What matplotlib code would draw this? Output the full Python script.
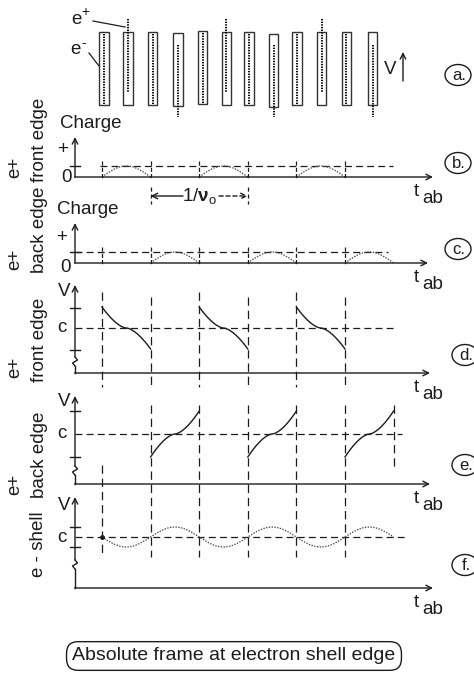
import numpy as np
import matplotlib
matplotlib.use('Agg')
import matplotlib.pyplot as plt
from matplotlib.patches import Rectangle, Ellipse

plt.rcParams['font.family'] = ['Liberation Sans', 'DejaVu Sans']
plt.rcParams['lines.scale_dashes'] = False
plt.rcParams['mathtext.fontset'] = 'custom'
plt.rcParams['mathtext.rm'] = 'Liberation Sans'
plt.rcParams['mathtext.it'] = 'Liberation Sans:italic'
plt.rcParams['mathtext.bf'] = 'Liberation Sans:bold'

# ---- data (time in half periods of 1/v0) ----
BOUNDS = [0, 1, 2, 3, 4, 5, 6]
BAR_T = [0.04, 0.54, 1.04, 1.56, 2.07, 2.56, 3.02, 3.53, 4.01, 4.52, 5.03, 5.57]
BAR_KIND = ['e', 'up', 'e', 'down', 'e', 'up', 'e', 'down', 'e', 'up', 'e', 'down']
BAR_SHIFT = [0, 0, 0, 1, -1, 0, 0, 2, 0, 0, 0, 0]
FRONT_HUMPS = [(0, 1), (2, 3), (4, 5)]
BACK_HUMPS = [(1, 2), (3, 4), (5, 6)]
CHARGE_LEVEL = 1.0
FRONT_FALLS = [(0, 1), (2, 3), (4, 5)]   # v goes from c+1 down to c-1
BACK_RISES = [(1, 2), (3, 4), (5, 6)]    # v goes from c-1 up to c+1
SHELL_SPAN = (0, 6)
SHELL_AMP = 1.0
PANEL_TAGS = ['a.', 'b.', 'c.', 'd.', 'e.', 'f.']

W, H = 474, 675
X0, DX = 102.0, 48.6          # pixel column of t=0, pixels per half period
INK = '#1c1c1c'
FS = 13.5
ARROW = dict(arrowstyle='->', lw=1.0, color=INK, shrinkA=0, shrinkB=0,
             mutation_scale=10)
DASH = dict(color=INK, lw=0.9, ls=(0, (5, 3)))
VDASH = dict(color=INK, lw=0.9, ls=(0, (6, 3.5)))
DOT = dict(color='#444444', lw=0.9, ls=(0, (1, 1)))


def t_of(px):
    return (px - X0) / DX


fig = plt.figure(figsize=(W / 100, H / 100), dpi=100)


def make_panel(y0_px, unit, top_px, bot_px):
    ax = fig.add_axes([0, 1 - bot_px / H, 1, (bot_px - top_px) / H])
    ax.set_xlim(t_of(0), t_of(W))
    ax.set_ylim((y0_px - bot_px) / unit, (y0_px - top_px) / unit)
    ax.axis('off')
    return ax, (lambda px: (y0_px - px) / unit)


def draw_frame(ax, v, base_px, top_px, end_px, zig_px=None):
    xa = t_of(75)
    ax.annotate('', xy=(t_of(end_px), v(base_px)), xytext=(xa - 0.01, v(base_px)),
                arrowprops=ARROW, annotation_clip=False)
    if zig_px is None:
        ax.annotate('', xy=(xa, v(top_px)), xytext=(xa, v(base_px)),
                    arrowprops=ARROW, annotation_clip=False)
    else:
        ax.annotate('', xy=(xa, v(top_px)), xytext=(xa, v(zig_px - 4)),
                    arrowprops=ARROW, annotation_clip=False)
        zx = [0, 2.5, -2.5, 0]
        zy = [-4, -1, 2, 5]
        ax.plot([xa + d / DX for d in zx], [v(zig_px + d) for d in zy],
                color=INK, lw=1.0, clip_on=False)
        ax.plot([xa, xa], [v(zig_px + 5), v(base_px)], color=INK, lw=1.0,
                clip_on=False)


def ytick(ax, v, px):
    ax.plot([t_of(70), t_of(80)], [v(px), v(px)], color=INK, lw=1.0, clip_on=False)


# overlay in pixel units for labels
lay = fig.add_axes([0, 0, 1, 1])
lay.set_xlim(0, W)
lay.set_ylim(H, 0)
lay.axis('off')


def tab(base_px):
    lay.text(414, base_px + 19, 't', fontsize=FS, color=INK, va='baseline')
    lay.text(422, base_px + 26, 'ab', fontsize=FS, color=INK, va='baseline')


def side_label(x, bottom, s):
    lay.text(x, bottom, s, rotation=90, fontsize=FS, color=INK,
             ha='center', va='bottom')


# ---- panel a: shells ----
axa = fig.add_axes([0, 1 - 125 / H, 1, 125 / H])
axa.set_xlim(t_of(0), t_of(W))
axa.set_ylim(125, 0)
axa.axis('off')
bw = 9.5 / DX
for tc, kind, sh in zip(BAR_T, BAR_KIND, BAR_SHIFT):
    axa.add_patch(Rectangle((tc - bw / 2, 32 + sh), bw, 73, facecolor='white',
                            edgecolor='#333333', lw=1.0))
    if kind == 'e':
        ys = (34 + sh, 104 + sh)
    elif kind == 'up':
        ys = (19, 92)
    else:
        ys = (45, 117)
    axa.plot([tc, tc], ys, color='black', lw=1.4, ls=(0, (1, 0.9)))
lay.text(76, 20, 'e', fontsize=FS, color=INK, ha='center', va='center')
lay.text(85, 12, '+', fontsize=10, color=INK, ha='center', va='center')
lay.plot([93, 125], [21, 27], color=INK, lw=0.9)
lay.text(75, 49, 'e', fontsize=FS, color=INK, ha='center', va='center')
lay.text(84, 43, '-', fontsize=10, color=INK, ha='center', va='center')
lay.plot([89, 99], [53, 66], color=INK, lw=0.9)
lay.text(390, 70, 'V', fontsize=FS, color=INK, ha='center', va='center')
lay.annotate('', xy=(403, 52), xytext=(403, 81), arrowprops=ARROW)

# ---- panel b: front edge charge ----
axb, vb = make_panel(177, 11, 110, 215)
draw_frame(axb, vb, 177, 137, 433)
ytick(axb, vb, 166)
axb.plot([t_of(100), t_of(393)], [CHARGE_LEVEL] * 2, **DASH)
for a, b in FRONT_HUMPS:
    tt = np.linspace(a, b, 60)
    axb.plot(tt, CHARGE_LEVEL * np.sin(np.pi * (tt - a)), **DOT)
for t in BOUNDS[:-1]:
    axb.plot([t, t], [CHARGE_LEVEL + 0.5, -0.05], color=INK, lw=0.9, ls=(0, (3, 1.5)))
# 1/v0 span
for t in (1, 3):
    axb.plot([t, t], [vb(187), vb(204)], color=INK, lw=0.9, ls=(0, (3, 2)))
axb.annotate('', xy=(1, vb(196)), xytext=(t_of(183), vb(196)),
             arrowprops=ARROW, annotation_clip=False)
axb.annotate('', xy=(3, vb(196)), xytext=(t_of(219), vb(196)),
             arrowprops=dict(ARROW, ls=(0, (3, 2))), annotation_clip=False)
axb.text(2.0, vb(196), r'$1/\mathbf{\nu}_{\mathrm{o}}$', fontsize=FS, color=INK,
         ha='center', va='center')
lay.text(60, 123, 'Charge', fontsize=FS, color=INK, va='center')
lay.text(63, 150, '+', fontsize=FS, color=INK, ha='center', va='center')
lay.text(67, 178, '0', fontsize=FS, color=INK, ha='center', va='center')
tab(177)
side_label(15, 178, 'e+')
side_label(40, 182, 'front edge')

# ---- panel c: back edge charge ----
axc, vc = make_panel(263, 11, 195, 300)
draw_frame(axc, vc, 263, 223, 428)
ytick(axc, vc, 252)
axc.plot([t_of(75), t_of(388)], [CHARGE_LEVEL] * 2, **DASH)
for a, b in BACK_HUMPS:
    tt = np.linspace(a, b, 60)
    axc.plot(tt, CHARGE_LEVEL * np.sin(np.pi * (tt - a)), **DOT)
for t in BOUNDS[:-1]:
    axc.plot([t, t], [CHARGE_LEVEL + 0.5, -0.05], color=INK, lw=0.9, ls=(0, (3, 1.5)))
lay.text(57, 209, 'Charge', fontsize=FS, color=INK, va='center')
lay.text(62, 237, '+', fontsize=FS, color=INK, ha='center', va='center')
lay.text(66, 267, '0', fontsize=FS, color=INK, ha='center', va='center')
tab(263)
side_label(15, 270, 'e+')
side_label(40, 273, 'back edge')


def shape(x):
    return np.sign(x) * np.abs(x) ** 1.6


# ---- panel d: front edge velocity ----
axd, vd = make_panel(328, 21, 280, 395)
draw_frame(axd, vd, 373, 285, 430, zig_px=361)
for px in (308, 350):
    ytick(axd, vd, px)
axd.plot([t_of(75), t_of(397)], [0, 0], **DASH)
for t in BOUNDS[:-1]:
    axd.plot([t, t], [vd(292 if t % 2 == 0 else 297), vd(387)], **VDASH)
for a, b in FRONT_FALLS:
    tt = np.linspace(a, b, 80)
    axd.plot(tt, shape(1 - 2 * (tt - a)), color=INK, lw=1.0)
lay.text(64, 291, 'V', fontsize=FS, color=INK, ha='center', va='center')
lay.text(62, 327, 'c', fontsize=FS, color=INK, ha='center', va='center')
tab(373)
side_label(15, 378, 'e+')
side_label(40, 382, 'front edge')

# ---- panel e: back edge velocity ----
axe, ve = make_panel(434, 23, 390, 520)
draw_frame(axe, ve, 484, 396, 430, zig_px=470)
for px in (411, 457):
    ytick(axe, ve, px)
axe.plot([t_of(75), t_of(402)], [0, 0], **DASH)
for t in BOUNDS:
    top = 465 if t == BOUNDS[0] else 405
    bot = 467 if t == BOUNDS[-1] else 557
    axe.plot([t, t], [ve(top), ve(bot)], clip_on=False, **VDASH)
for a, b in BACK_RISES:
    tt = np.linspace(a, b, 80)
    axe.plot(tt, -shape(1 - 2 * (tt - a)), color=INK, lw=1.0)
lay.text(64, 401, 'V', fontsize=FS, color=INK, ha='center', va='center')
lay.text(62, 433, 'c', fontsize=FS, color=INK, ha='center', va='center')
tab(484)
side_label(15, 495, 'e+')
side_label(40, 498, 'back edge')

# ---- panel f: electron shell velocity ----
axf, vf = make_panel(537, 10, 490, 625)
draw_frame(axf, vf, 588, 497, 433, zig_px=564)
for px in (527, 547):
    ytick(axf, vf, px)
axf.plot([t_of(75), t_of(407)], [0, 0], **DASH)
tt = np.linspace(SHELL_SPAN[0], SHELL_SPAN[1], 400)
axf.plot(tt, -SHELL_AMP * np.sin(np.pi * (tt - SHELL_SPAN[0])), **DOT)
axf.plot([SHELL_SPAN[0]], [0], 'o', color=INK, ms=2.5)
lay.text(64, 505, 'V', fontsize=FS, color=INK, ha='center', va='center')
lay.text(62, 537, 'c', fontsize=FS, color=INK, ha='center', va='center')
tab(588)
side_label(39, 577, 'e - shell')

# ---- panel tags ----
for tag, (cx, cy) in zip(PANEL_TAGS, [(458, 75), (458, 163), (458, 249),
                                       (465, 355), (465, 465), (465, 565)]):
    lay.add_patch(Ellipse((cx, cy), 26, 21, facecolor='none', edgecolor=INK, lw=1.0))
    lay.text(cx + 1, cy, tag, fontsize=12, color=INK, ha='center', va='center')

lay.text(234, 656, 'Absolute frame at electron shell edge', fontsize=14, color=INK,
         ha='center', va='center',
         bbox=dict(boxstyle='round,pad=0.3,rounding_size=0.6', facecolor='white',
                   edgecolor=INK, lw=1.0))

fig.savefig('out.png', dpi=100)
